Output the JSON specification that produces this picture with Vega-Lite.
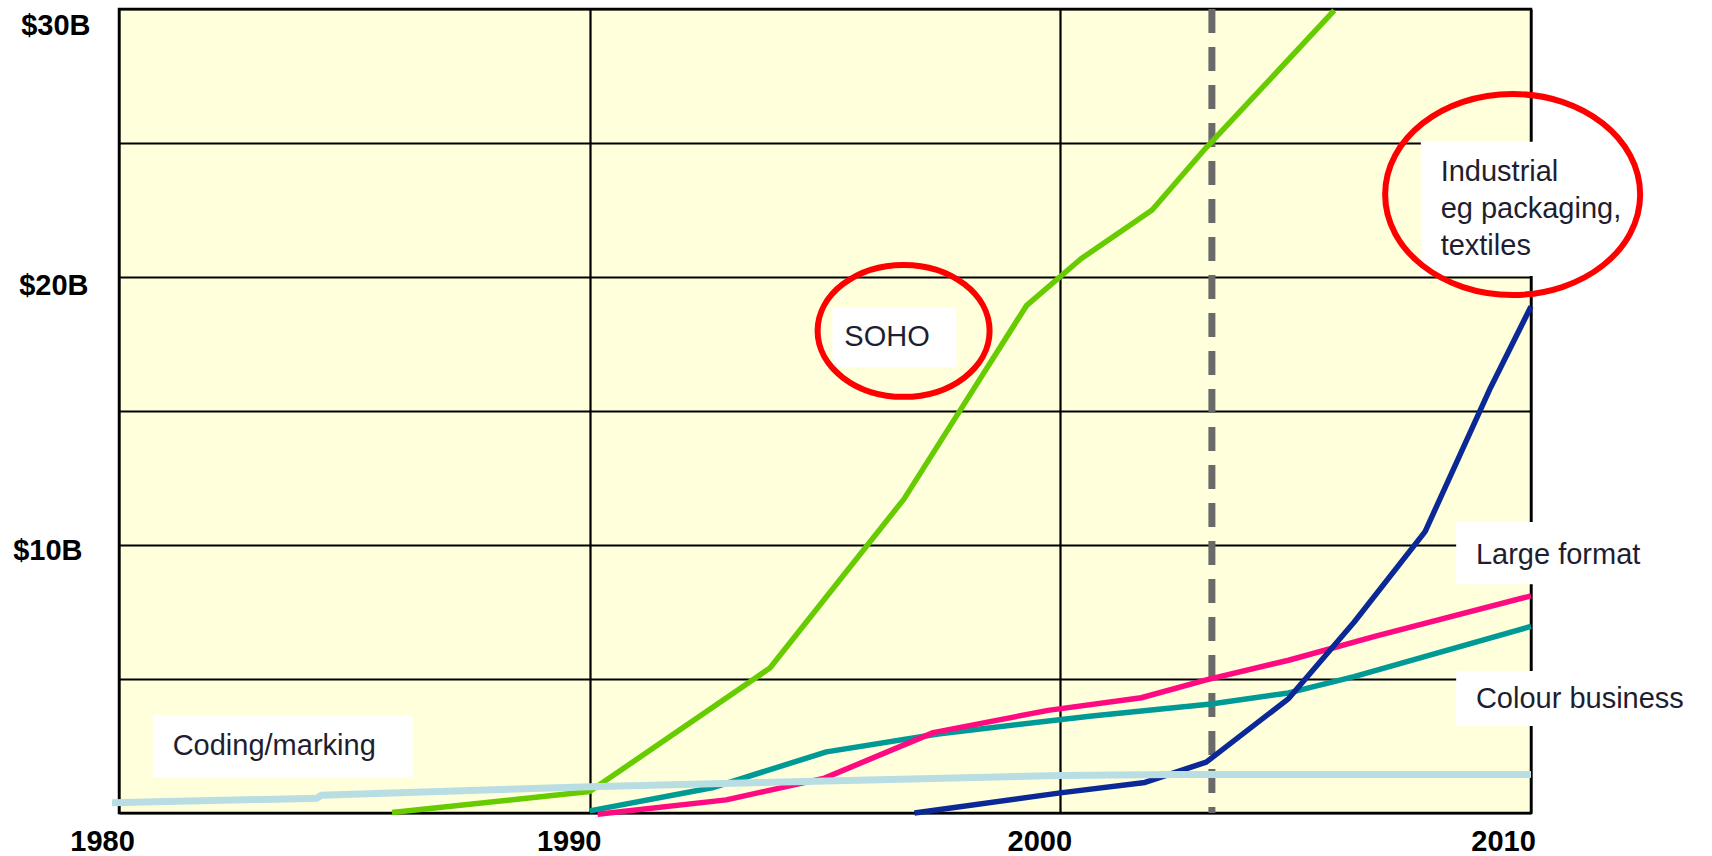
{
  "$schema": "https://vega.github.io/schema/vega-lite/v6.json",
  "width": 1412,
  "height": 804,
  "autosize": {"type": "none"},
  "padding": {"left": 119, "top": 9, "right": 181, "bottom": 43},
  "background": "white",
  "config": {
    "view": {"fill": "#ffffdc", "stroke": "#000000", "strokeWidth": 2.5},
    "font": "Liberation Sans"
  },
  "datasets": {
    "lines": [
      {"series": "Coding/marking", "year": 1979.85, "value": 0.38},
      {"series": "Coding/marking", "year": 1984.2, "value": 0.55},
      {"series": "Coding/marking", "year": 1984.3, "value": 0.66},
      {"series": "Coding/marking", "year": 1990, "value": 0.98},
      {"series": "Coding/marking", "year": 2000, "value": 1.4},
      {"series": "Coding/marking", "year": 2002.5, "value": 1.44},
      {"series": "Coding/marking", "year": 2010, "value": 1.44},
      {"series": "SOHO", "year": 1985.8, "value": 0.02},
      {"series": "SOHO", "year": 1990, "value": 0.8},
      {"series": "SOHO", "year": 1993.83, "value": 5.41},
      {"series": "SOHO", "year": 1996.68, "value": 11.72},
      {"series": "SOHO", "year": 1997.84, "value": 14.94},
      {"series": "SOHO", "year": 1999.28, "value": 18.93},
      {"series": "SOHO", "year": 2000.44, "value": 20.68},
      {"series": "SOHO", "year": 2001.95, "value": 22.5},
      {"series": "SOHO", "year": 2003.1, "value": 24.83},
      {"series": "SOHO", "year": 2004.4, "value": 27.27},
      {"series": "SOHO", "year": 2005.82, "value": 29.95},
      {"series": "Colour business", "year": 1990, "value": 0.08},
      {"series": "Colour business", "year": 1992.6, "value": 0.94},
      {"series": "Colour business", "year": 1995.03, "value": 2.28},
      {"series": "Colour business", "year": 1997.4, "value": 2.95},
      {"series": "Colour business", "year": 2000.67, "value": 3.62},
      {"series": "Colour business", "year": 2003.2, "value": 4.07},
      {"series": "Colour business", "year": 2004.85, "value": 4.48},
      {"series": "Colour business", "year": 2006.24, "value": 5.09},
      {"series": "Colour business", "year": 2010, "value": 6.96},
      {"series": "Large format", "year": 1990.17, "value": -0.05},
      {"series": "Large format", "year": 1992.9, "value": 0.49},
      {"series": "Large format", "year": 1994.99, "value": 1.3},
      {"series": "Large format", "year": 1997.3, "value": 3.0},
      {"series": "Large format", "year": 1999.74, "value": 3.83},
      {"series": "Large format", "year": 2001.72, "value": 4.3},
      {"series": "Large format", "year": 2003.1, "value": 4.97},
      {"series": "Large format", "year": 2004.85, "value": 5.7},
      {"series": "Large format", "year": 2006.7, "value": 6.6},
      {"series": "Large format", "year": 2010, "value": 8.1},
      {"series": "Industrial", "year": 1996.9, "value": 0.0},
      {"series": "Industrial", "year": 2000, "value": 0.75},
      {"series": "Industrial", "year": 2001.8, "value": 1.14},
      {"series": "Industrial", "year": 2003.1, "value": 1.9},
      {"series": "Industrial", "year": 2004.85, "value": 4.27},
      {"series": "Industrial", "year": 2006.24, "value": 7.12},
      {"series": "Industrial", "year": 2007.75, "value": 10.5},
      {"series": "Industrial", "year": 2009.14, "value": 15.87},
      {"series": "Industrial", "year": 2010, "value": 18.9}
    ],
    "boxes": [
      {"label": "Coding/marking", "x1": 1980.72, "x2": 1986.24, "y1": 3.66, "y2": 1.34, "tx": 1981.14, "ty": 2.51},
      {"label": "SOHO", "x1": 1995.16, "x2": 1997.79, "y1": 18.84, "y2": 16.64, "tx": 1995.41, "ty": 17.76},
      {"label": "Industrial\neg packaging,\ntextiles", "x1": 2007.66, "x2": 2010.6, "y1": 25.05, "y2": 20.04, "tx": 2008.08, "ty": 23.9},
      {"label": "Large format", "x1": 2008.41, "x2": 2013.5, "y1": 10.86, "y2": 8.54, "tx": 2008.83, "ty": 9.64},
      {"label": "Colour business", "x1": 2008.41, "x2": 2013.9, "y1": 5.3, "y2": 3.25, "tx": 2008.83, "ty": 4.26}
    ],
    "ellipses": [
      {"name": "SOHO", "year": 1996.67, "value": 17.99},
      {"name": "Industrial", "year": 2009.61, "value": 23.08}
    ],
    "marker": [
      {"year": 2003.22}
    ]
  },
  "layer": [
    {
      "data": {"name": "lines"},
      "mark": {"type": "line", "opacity": 0},
      "encoding": {
        "x": {
          "field": "year", "type": "quantitative",
          "scale": {"domain": [1980, 2010], "nice": false, "zero": false},
          "axis": {
            "values": [1980, 1990, 2000, 2010],
            "format": "d",
            "title": null,
            "grid": true,
            "gridColor": "#000000",
            "gridWidth": 2.2,
            "gridOpacity": 1,
            "domain": false,
            "ticks": false,
            "labelFont": "Liberation Sans",
            "labelFontWeight": "bold",
            "labelFontSize": 29,
            "labelColor": "#000000",
            "labelPadding": 14,
            "labelFlush": false,
            "labelOffset": {
              "condition": [
                {"test": "datum.value == 1980", "value": -17},
                {"test": "datum.value == 2010", "value": -28}
              ],
              "value": -21
            }
          }
        },
        "y": {
          "field": "value", "type": "quantitative",
          "scale": {"domain": [0, 30], "nice": false, "zero": false},
          "axis": {
            "values": [0, 5, 10, 15, 20, 25, 30],
            "labelExpr": "datum.value == 10 || datum.value == 20 || datum.value == 30 ? '$' + datum.value + 'B' : ''",
            "title": null,
            "grid": true,
            "gridColor": "#000000",
            "gridWidth": 2.2,
            "gridOpacity": 1,
            "domain": false,
            "ticks": false,
            "labelFont": "Liberation Sans",
            "labelFontWeight": "bold",
            "labelFontSize": 29,
            "labelColor": "#000000",
            "labelFlush": false,
            "labelPadding": {
              "condition": [
                {"test": "datum.value == 30", "value": 29},
                {"test": "datum.value == 20", "value": 31}
              ],
              "value": 37
            },
            "labelOffset": {
              "condition": [
                {"test": "datum.value == 30", "value": 16},
                {"test": "datum.value == 20", "value": 8}
              ],
              "value": 5
            }
          }
        }
      }
    },
    {
      "data": {"name": "marker"},
      "mark": {"type": "rule", "color": "#6a6a6a", "strokeWidth": 7, "strokeDash": [24, 14]},
      "encoding": {
        "x": {"field": "year", "type": "quantitative"}
      }
    },
    {
      "data": {"name": "lines"},
      "transform": [{"filter": "datum.series != 'Coding/marking'"}],
      "mark": {"type": "line", "strokeWidth": 5.5, "strokeJoin": "round"},
      "encoding": {
        "x": {"field": "year", "type": "quantitative"},
        "y": {"field": "value", "type": "quantitative"},
        "order": {"field": "year", "type": "quantitative"},
        "color": {
          "field": "series", "type": "nominal",
          "scale": {
            "domain": ["Industrial", "Colour business", "Large format", "SOHO"],
            "range": ["#0a2896", "#009a96", "#ff0a80", "#66cc00"]
          },
          "legend": null
        }
      }
    },
    {
      "data": {"name": "lines"},
      "transform": [{"filter": "datum.series == 'Coding/marking'"}],
      "mark": {"type": "line", "strokeWidth": 7, "color": "#b8dee3"},
      "encoding": {
        "x": {"field": "year", "type": "quantitative"},
        "y": {"field": "value", "type": "quantitative"},
        "order": {"field": "year", "type": "quantitative"}
      }
    },
    {
      "data": {"name": "boxes"},
      "mark": {"type": "rect", "color": "#ffffff"},
      "encoding": {
        "x": {"field": "x1", "type": "quantitative"},
        "x2": {"field": "x2"},
        "y": {"field": "y1", "type": "quantitative"},
        "y2": {"field": "y2"}
      }
    },
    {
      "data": {"name": "boxes"},
      "mark": {"type": "text", "align": "left", "baseline": "middle", "font": "Liberation Sans", "fontSize": 29, "color": "#1e1e30", "lineHeight": 37, "lineBreak": "\n"},
      "encoding": {
        "x": {"field": "tx", "type": "quantitative"},
        "y": {"field": "ty", "type": "quantitative"},
        "text": {"field": "label", "type": "nominal"}
      }
    },
    {
      "data": {"name": "ellipses"},
      "transform": [{"filter": "datum.name == 'SOHO'"}],
      "mark": {"type": "point", "shape": "M -1 0 A 1 0.767 0 1 1 1 0 A 1 0.767 0 1 1 -1 0 Z", "size": 29584, "filled": false, "stroke": "#ff0000", "strokeWidth": 6, "opacity": 1},
      "encoding": {
        "x": {"field": "year", "type": "quantitative"},
        "y": {"field": "value", "type": "quantitative"}
      }
    },
    {
      "data": {"name": "ellipses"},
      "transform": [{"filter": "datum.name == 'Industrial'"}],
      "mark": {"type": "point", "shape": "M -1 0 A 1 0.788 0 1 1 1 0 A 1 0.788 0 1 1 -1 0 Z", "size": 65025, "filled": false, "stroke": "#ff0000", "strokeWidth": 6, "opacity": 1},
      "encoding": {
        "x": {"field": "year", "type": "quantitative"},
        "y": {"field": "value", "type": "quantitative"}
      }
    }
  ]
}
